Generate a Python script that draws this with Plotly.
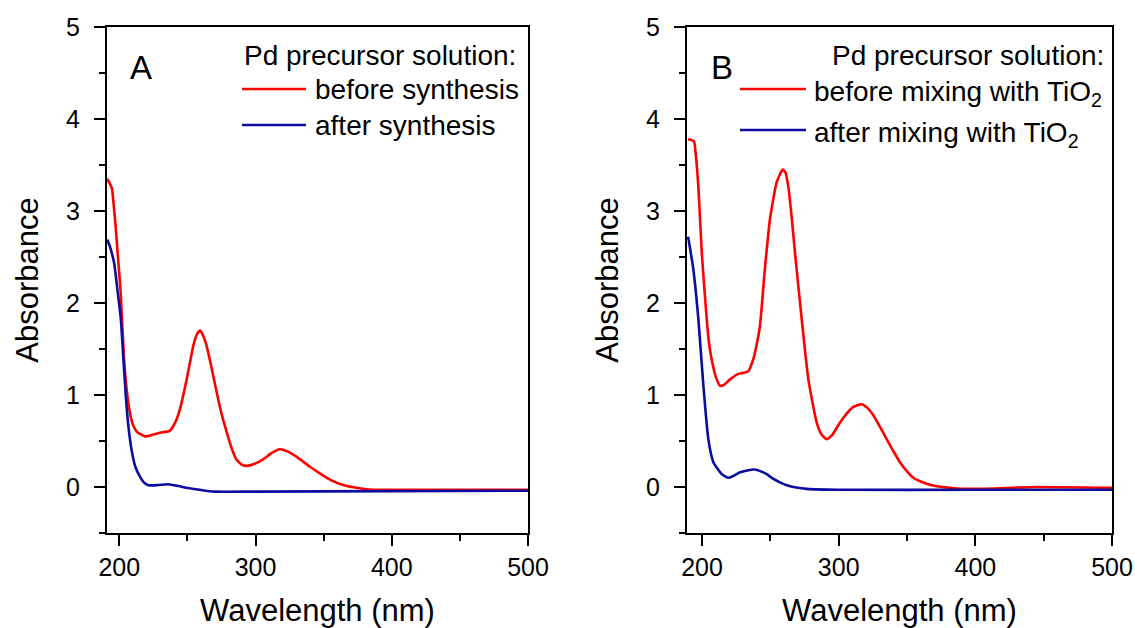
import plotly.graph_objects as go

# ---------------- data ----------------
wl_a_before = [191, 193, 194.7, 196, 197.3, 199.3, 201, 203.5, 205.5, 207.3, 209.5, 213, 219, 225, 230, 237, 241,
               244.6, 249.5, 254.4, 257, 259.3, 261.5, 264, 268, 271.5, 275, 278.8, 283, 286, 290, 293.4, 299,
               305.6, 312, 317.8, 323, 330, 340, 348, 356, 365, 375, 387, 420, 460, 500]
abs_a_before = [3.35, 3.30, 3.24, 3.05, 2.84, 2.45, 2.12, 1.39, 1.05, 0.85, 0.70, 0.60, 0.55, 0.57, 0.59, 0.61, 0.70,
                0.85, 1.17, 1.54, 1.66, 1.70, 1.65, 1.54, 1.28, 1.03, 0.80, 0.60, 0.40, 0.30, 0.24, 0.23, 0.25,
                0.30, 0.37, 0.41, 0.39, 0.33, 0.22, 0.14, 0.07, 0.02, -0.01, -0.03, -0.03, -0.03, -0.03]

wl_a_after = [191.2, 193, 196.3, 198.6, 201.2, 203, 205, 207, 209.3, 211.8, 214.9, 218, 221.4, 228, 235.8,
              243.6, 250, 259, 269.7, 300, 400, 500]
abs_a_after = [2.69, 2.62, 2.43, 2.15, 1.82, 1.40, 0.95, 0.62, 0.38, 0.22, 0.12, 0.05, 0.02, 0.02, 0.03,
               0.01, -0.01, -0.03, -0.05, -0.05, -0.045, -0.04]

wl_b_before = [189.8, 194, 195.5, 197.3, 199.8, 203.4, 205, 207, 210, 213.2, 216, 220.5, 226.6, 230, 233.9, 237.5,
               240, 242.4, 246, 249.7, 254.6, 259, 261, 263.1, 265.5, 268, 272.9, 277.8, 283.9, 287.5, 291.2, 295,
               301, 306, 310.7, 316.8, 321, 325.3, 330, 335.1, 340, 344.8, 350, 354.6, 360, 368, 383, 400, 445, 500]
abs_b_before = [3.78, 3.76, 3.60, 3.27, 2.55, 1.83, 1.58, 1.39, 1.20, 1.10, 1.11, 1.17, 1.23, 1.24, 1.26, 1.39,
                1.55, 1.75, 2.37, 2.91, 3.31, 3.45, 3.42, 3.27, 2.95, 2.55, 1.83, 1.17, 0.70, 0.57, 0.52, 0.56,
                0.70, 0.80, 0.87, 0.90, 0.86, 0.78, 0.66, 0.52, 0.39, 0.27, 0.17, 0.10, 0.06, 0.02, -0.01, -0.02, 0.0, -0.01]

wl_b_after = [189.8, 193.6, 197.3, 201, 204.6, 208.3, 214.4, 219.3, 223, 227.8, 233, 238.8, 243, 247.3, 252,
              257, 262, 266.8, 276.6, 300, 400, 500]
abs_b_after = [2.72, 2.37, 1.83, 1.10, 0.52, 0.27, 0.14, 0.10, 0.12, 0.16, 0.18, 0.19, 0.17, 0.14, 0.09,
               0.05, 0.02, 0.00, -0.02, -0.03, -0.03, -0.03]

legend_title = "Pd precursor solution:"
labels_a = ["before synthesis", "after synthesis"]
labels_b = ["before mixing with TiO<sub>2</sub>", "after mixing with TiO<sub>2</sub>"]
x_ticks = [200, 300, 400, 500]
y_ticks = [0, 1, 2, 3, 4, 5]

# ---------------- style ----------------
W, H = 1135, 628
RED = "#ff0000"
BLUE = "#0c0ca0"
FONT = "Liberation Sans, Arial, sans-serif"
LW = 2.6


def px(x):
    return x / W


def py(y):
    return 1 - y / H


def line(color):
    return dict(color=color, width=LW, shape="spline", smoothing=0.5)


fig = go.Figure()
fig.add_trace(go.Scatter(x=wl_a_before, y=abs_a_before, mode="lines", line=line(RED),
                         name=labels_a[0], xaxis="x", yaxis="y", showlegend=False))
fig.add_trace(go.Scatter(x=wl_a_after, y=abs_a_after, mode="lines", line=line(BLUE),
                         name=labels_a[1], xaxis="x", yaxis="y", showlegend=False))
fig.add_trace(go.Scatter(x=wl_b_before, y=abs_b_before, mode="lines", line=line(RED),
                         name=labels_b[0], xaxis="x2", yaxis="y2", showlegend=False))
fig.add_trace(go.Scatter(x=wl_b_after, y=abs_b_after, mode="lines", line=line(BLUE),
                         name=labels_b[1], xaxis="x2", yaxis="y2", showlegend=False))

ydom = [py(533), py(27)]
common_x = dict(showline=True, linecolor="black", linewidth=2, mirror=True, ticks="outside", ticklen=11, tickwidth=2,
                tickcolor="black", tickvals=x_ticks,
                minor=dict(dtick=50, ticks="outside", ticklen=6, tickwidth=2, tickcolor="black"),
                showgrid=False, zeroline=False, automargin=False,
                tickfont=dict(family=FONT, size=25, color="black"),
                title=dict(text="Wavelength (nm)", font=dict(family=FONT, size=31, color="black"), standoff=22),
                ticklabelstandoff=0)
common_y = dict(showline=True, linecolor="black", linewidth=2, mirror=True, ticks="outside", ticklen=11, tickwidth=2,
                tickcolor="black", tickvals=y_ticks, range=[-0.5, 5],
                minor=dict(dtick=0.5, ticks="outside", ticklen=6, tickwidth=2, tickcolor="black"),
                showgrid=False, zeroline=False, automargin=False,
                tickfont=dict(family=FONT, size=25, color="black"),
                title=dict(text="Absorbance", font=dict(family=FONT, size=31, color="black"), standoff=18),
                ticklabelstandoff=9, domain=ydom)

fig.update_layout(
    width=W, height=H, margin=dict(l=0, r=0, t=0, b=0),
    paper_bgcolor="white", plot_bgcolor="white",
    xaxis=dict(common_x, domain=[px(107), px(528)], range=[191, 500], anchor="y"),
    yaxis=dict(common_y, anchor="x"),
    xaxis2=dict(common_x, domain=[px(687), px(1112)], range=[189, 500], anchor="y2"),
    yaxis2=dict(common_y, anchor="x2"),
)

LEG = 28
ann = []
shapes = []
# Panel A legend
ann.append(dict(text="A", x=px(128), y=py(68), xref="paper", yref="paper", xanchor="left", yanchor="middle",
                showarrow=False, font=dict(family=FONT, size=33, color="black")))
ann.append(dict(text=legend_title, x=px(518), y=py(55), xref="paper", yref="paper", xanchor="right", yanchor="middle",
                showarrow=False, font=dict(family=FONT, size=LEG, color="black")))
for lab, col, yy in [(labels_a[0], RED, 89), (labels_a[1], BLUE, 125)]:
    shapes.append(dict(type="line", xref="paper", yref="paper", x0=px(242), x1=px(306), y0=py(yy), y1=py(yy),
                       line=dict(color=col, width=LW)))
    ann.append(dict(text=lab, x=px(313), y=py(yy), xref="paper", yref="paper", xanchor="left", yanchor="middle",
                    showarrow=False, font=dict(family=FONT, size=LEG, color="black")))
# Panel B legend
ann.append(dict(text="B", x=px(709), y=py(68), xref="paper", yref="paper", xanchor="left", yanchor="middle",
                showarrow=False, font=dict(family=FONT, size=33, color="black")))
ann.append(dict(text=legend_title, x=px(1106), y=py(55), xref="paper", yref="paper", xanchor="right", yanchor="middle",
                showarrow=False, font=dict(family=FONT, size=LEG, color="black")))
for lab, col, yy in [(labels_b[0], RED, 89), (labels_b[1], BLUE, 130)]:
    shapes.append(dict(type="line", xref="paper", yref="paper", x0=px(740), x1=px(806), y0=py(yy), y1=py(yy),
                       line=dict(color=col, width=LW)))
    ann.append(dict(text=lab, x=px(812), y=py(yy + 4), xref="paper", yref="paper", xanchor="left", yanchor="middle",
                    showarrow=False, font=dict(family=FONT, size=LEG, color="black")))

fig.update_layout(annotations=ann, shapes=shapes)
fig.write_html("out.html")
